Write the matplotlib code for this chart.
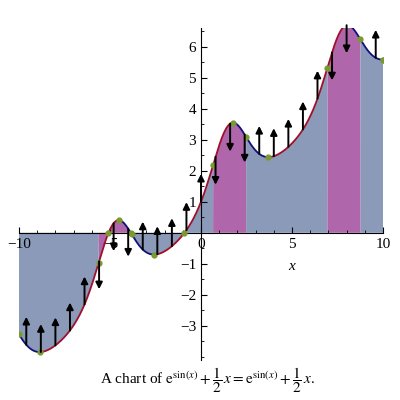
import numpy as np
import matplotlib.pyplot as plt

# chart of f(x) = e^sin(x) + x/2 on [-10, 10]
x_range = [-10, 10]
arrow_x = [-9.6, -8.8, -8.0, -7.2, -6.4, -5.6, -4.8, -4.0, -3.2, -2.4, -1.6, -0.8,
           0.0, 0.8, 1.6, 2.4, 3.2, 4.0, 4.8, 5.6, 6.4, 7.2, 8.0, 8.8, 9.6]
x_ticks = [-10, -5, 0, 5, 10]
y_ticks = [-3, -2, -1, 1, 2, 3, 4, 5, 6]


def f(x):
    return np.exp(np.sin(x)) + x / 2


def df(x):
    return np.exp(np.sin(x)) * np.cos(x) + 0.5


def d2f(x):
    return np.exp(np.sin(x)) * (np.cos(x) ** 2 - np.sin(x))


plt.rcParams['font.family'] = ['Liberation Serif', 'DejaVu Serif']
plt.rcParams['mathtext.fontset'] = 'stix'
fig = plt.figure(figsize=(4, 4), dpi=100)
ax = fig.add_axes([19 / 400, 40 / 400, 364 / 400, 332 / 400])

xs = np.linspace(x_range[0], x_range[1], 4001)
ys = f(xs)
down = d2f(xs) < 0
ax.fill_between(xs, 0, ys, where=~down, color='#8a9ab8', linewidth=0, interpolate=True)
ax.fill_between(xs, 0, ys, where=down, color='#b066aa', linewidth=0, interpolate=True)

inc = df(xs) >= 0
for mask, col in [(inc, '#a0102a'), (~inc, '#10107a')]:
    yy = np.where(mask, ys, np.nan)
    ax.plot(xs, yy, color=col, lw=1.3, zorder=3)

# special points: roots, extrema, inflections, endpoints
pts = [xs[0], xs[-1]]
for g in (ys, df(xs), d2f(xs)):
    idx = np.where(np.sign(g[:-1]) != np.sign(g[1:]))[0]
    pts += list(xs[idx])
pts = np.array(pts)
ax.plot(pts, f(pts), 'o', color='#7a9a30', ms=3.5, zorder=4)

for xa in arrow_x:
    y0 = f(xa)
    dy = 0.9 if d2f(xa) >= 0 else -0.9
    ax.annotate('', xy=(xa, y0 + dy), xytext=(xa, y0),
                arrowprops=dict(arrowstyle='-|>', color='black', lw=1.4,
                                mutation_scale=10, shrinkA=0, shrinkB=0), zorder=5)

ax.set_xlim(-10, 10)
ax.set_ylim(-4.1, 6.6)
for s in ['top', 'right']:
    ax.spines[s].set_visible(False)
ax.spines['left'].set_position(('data', 0))
ax.spines['bottom'].set_position(('data', 0))
ax.set_xticks(x_ticks)
ax.set_xticklabels([str(t).replace('-', '\u2212') for t in x_ticks])
ax.set_yticks(y_ticks)
ax.set_yticklabels([str(t).replace('-', '\u2212') for t in y_ticks])
ax.set_xticks(np.arange(-10, 11, 1), minor=True)
ax.set_yticks(np.arange(-4, 6.6, 0.5), minor=True)
ax.tick_params(labelsize=11, length=4, direction='in')
ax.tick_params(which='minor', length=2, direction='in')
ax.patch.set_visible(False)
ax.text(5, -1.1, 'x', style='italic', fontsize=11, ha='center', va='center')

fig.text(0.52, 0.05, r'A chart of $\mathrm{e}^{\sin(x)}+\dfrac{1}{2}\,x=\mathrm{e}^{\sin(x)}+\dfrac{1}{2}\,x$.',
         ha='center', va='center', fontsize=11)
fig.savefig('out.png')
